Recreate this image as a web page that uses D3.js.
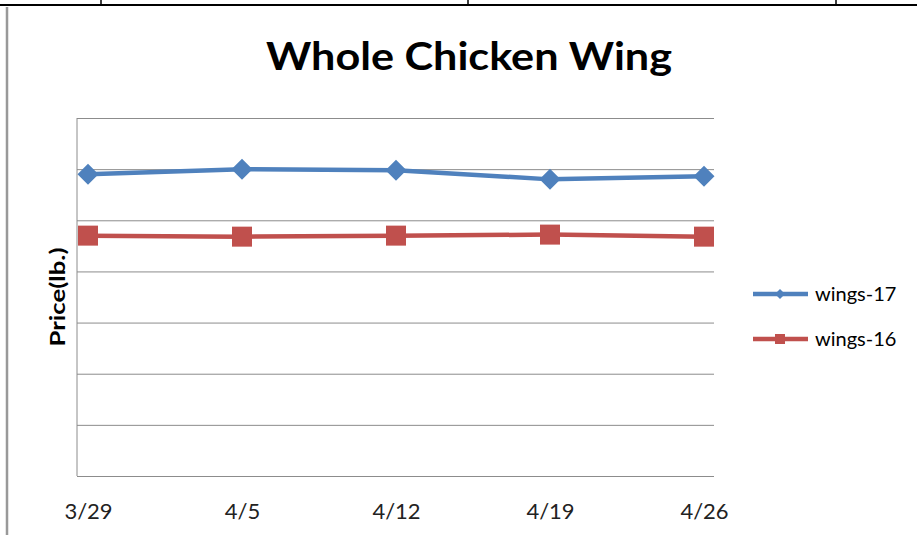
<!DOCTYPE html>
<html>
<head>
<meta charset="utf-8">
<script src="https://cdn.jsdelivr.net/npm/d3@7"></script>
<style>
  body { margin: 0; background: #fff; }
  svg { display: block; font-family: Lato, "Open Sans", sans-serif; }
</style>
</head>
<body>
<script>
// weekly price data
const weeks = ["3/29", "4/5", "4/12", "4/19", "4/26"];
const wings17 = [2.95, 3.00, 2.99, 2.90, 2.93];
const wings16 = [2.35, 2.34, 2.35, 2.36, 2.34];
const yTicks = [0, 0.5, 1, 1.5, 2, 2.5, 3, 3.5];

const W = 917, H = 535;
const blue = "#4F81BD", red = "#C0504D";

const svg = d3.select("body").append("svg")
  .attr("width", W)
  .attr("height", H);

// bits of the surrounding document table
svg.append("line")
  .attr("x1", 0).attr("x2", W).attr("y1", 5).attr("y2", 5)
  .attr("stroke", "#000").attr("stroke-width", 2.2);
[101, 468, 836].forEach(xx => {
  svg.append("line")
    .attr("x1", xx).attr("x2", xx).attr("y1", 0).attr("y2", 5)
    .attr("stroke", "#000").attr("stroke-width", 1.5);
});
svg.append("line")
  .attr("x1", 7).attr("x2", 7).attr("y1", 7).attr("y2", H)
  .attr("stroke", "#999").attr("stroke-width", 2.5);

var x = d3.scalePoint().domain(weeks).range([88, 704]);
var y = d3.scaleLinear().domain([0, 3.5]).range([476, 118]);
const plotLeft = 77, plotRight = 714;

// gridlines
var grid = svg.append("g").attr("transform", `translate(${plotLeft},0)`)
  .call(d3.axisLeft(y).tickValues(yTicks).tickSize(-(plotRight - plotLeft)).tickFormat(""));
grid.select(".domain").remove();
grid.selectAll(".tick line").attr("stroke", "#8c8c8c").attr("stroke-width", 1);

// left plot border
svg.append("line")
  .attr("x1", plotLeft).attr("x2", plotLeft).attr("y1", y(3.5)).attr("y2", y(0))
  .attr("stroke", "#8c8c8c");

// x axis labels
var xa = svg.append("g").attr("transform", `translate(0,${y(0)})`)
  .call(d3.axisBottom(x).tickSize(0).tickPadding(0));
xa.select(".domain").remove();
xa.selectAll("text")
  .attr("dy", null)
  .attr("y", 43)
  .attr("font-size", 22)
  .attr("font-family", "Lato, sans-serif")
  .attr("fill", "#222");

// title
svg.append("text")
  .attr("x", 469).attr("y", 70)
  .attr("text-anchor", "middle")
  .attr("font-size", 39)
  .attr("font-weight", "bold")
  .attr("fill", "#000")
  .attr("textLength", 406)
  .attr("lengthAdjust", "spacingAndGlyphs")
  .text("Whole Chicken Wing");

// y label
svg.append("text")
  .attr("transform", "translate(65,297) rotate(-90)")
  .attr("text-anchor", "middle")
  .attr("font-size", 20)
  .attr("font-weight", "bold")
  .attr("fill", "#000")
  .attr("textLength", 99)
  .attr("lengthAdjust", "spacingAndGlyphs")
  .text("Price(lb.)");

const line = d3.line().x((d, i) => x(weeks[i])).y(d => y(d));

const diamond = s => `M0,${-s}L${s},0L0,${s}L${-s},0Z`;

function drawSeries(vals, color, shape) {
  svg.append("path")
    .attr("d", line(vals))
    .attr("fill", "none")
    .attr("stroke", color)
    .attr("stroke-width", 4.5);
  svg.selectAll(null).data(vals).enter().append("path")
    .attr("transform", (d, i) => `translate(${x(weeks[i])},${y(d)})`)
    .attr("d", shape === "diamond" ? diamond(10.5) : "M-10,-10H10V10H-10Z")
    .attr("fill", color);
}
drawSeries(wings16, red, "square");
drawSeries(wings17, blue, "diamond");

// legend
const legend = [
  { name: "wings-17", color: blue, shape: "diamond", cy: 294 },
  { name: "wings-16", color: red, shape: "square", cy: 339 }
];
legend.forEach(l => {
  svg.append("line")
    .attr("x1", 753).attr("x2", 808).attr("y1", l.cy).attr("y2", l.cy)
    .attr("stroke", l.color).attr("stroke-width", 4.5);
  svg.append("path")
    .attr("transform", `translate(780,${l.cy})`)
    .attr("d", l.shape === "diamond" ? diamond(5) : "M-5,-5H5V5H-5Z")
    .attr("fill", l.color);
  svg.append("text")
    .attr("x", 815).attr("y", l.cy + 7)
    .attr("font-size", 20)
    .attr("fill", "#000")
    .text(l.name);
});
</script>
</body>
</html>
